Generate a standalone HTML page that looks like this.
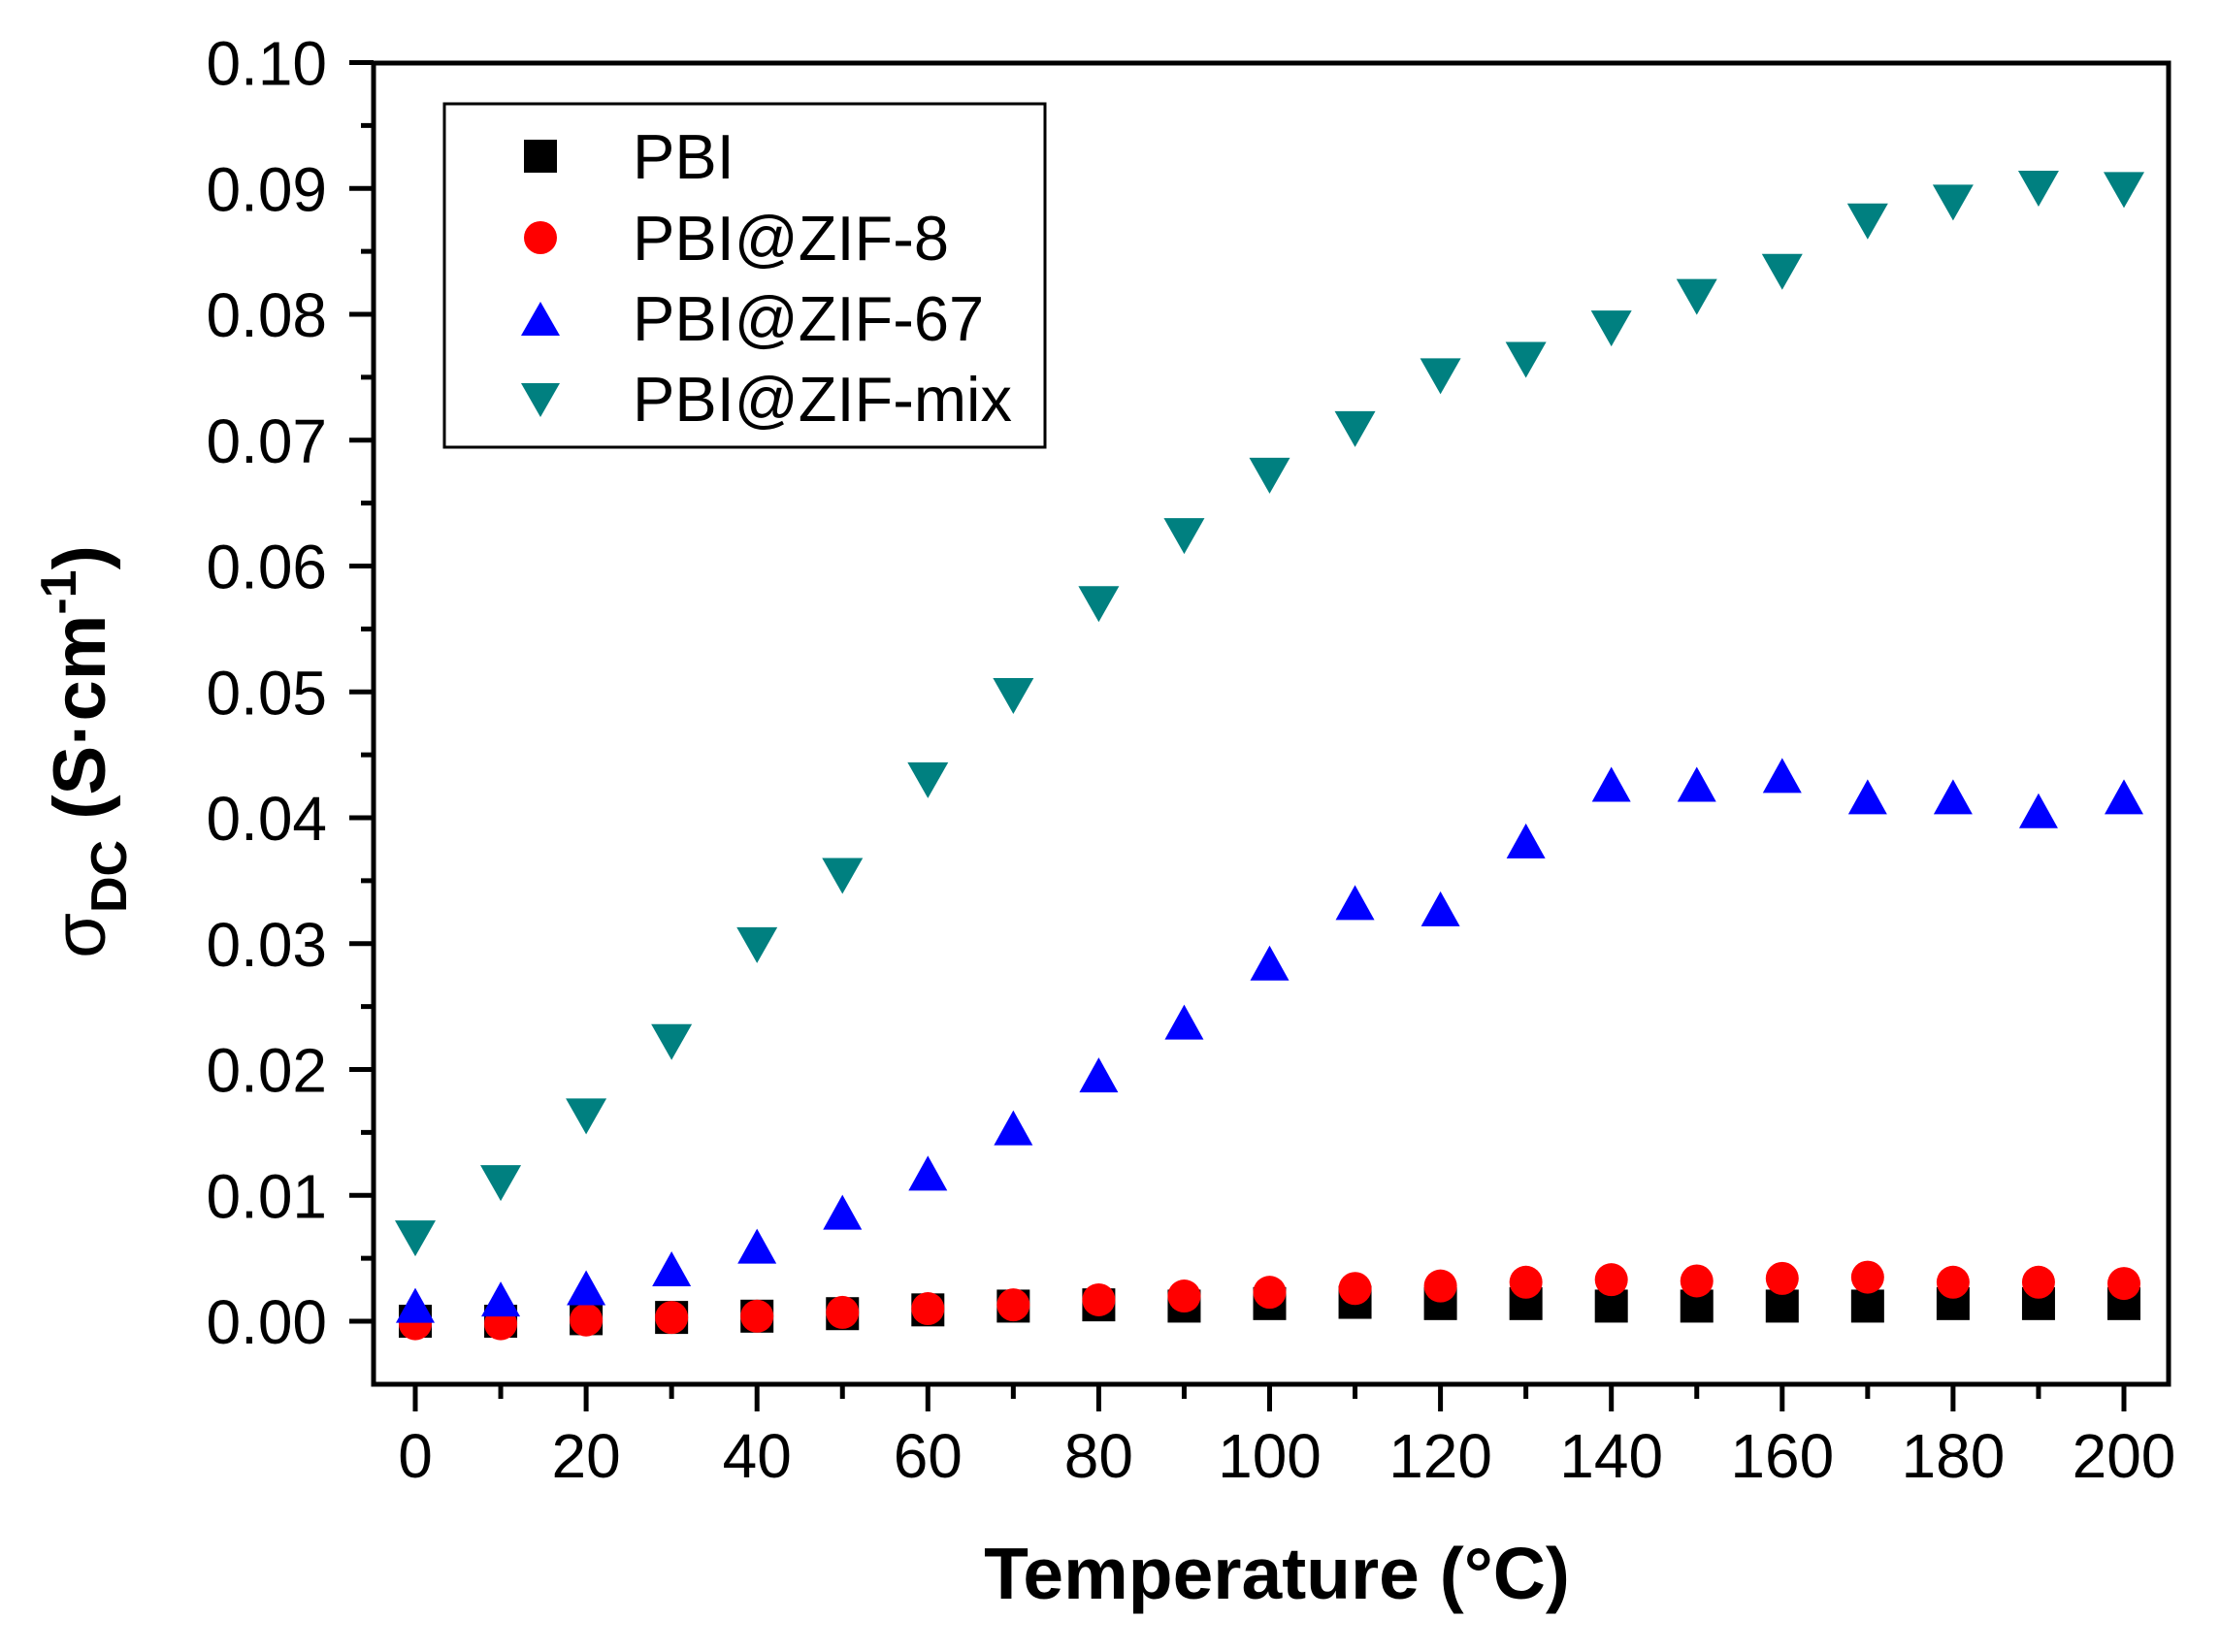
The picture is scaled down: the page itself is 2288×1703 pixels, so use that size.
<!DOCTYPE html>
<html><head><meta charset="utf-8"><style>
html,body{margin:0;padding:0;background:#fff;}
svg{display:block;}
text{font-family:"Liberation Sans",Arial,sans-serif;}
</style></head><body>
<svg id="s" width="2288" height="1703" viewBox="0 0 2288 1703" xmlns="http://www.w3.org/2000/svg">
<rect width="2288" height="1703" fill="#fff"/>
<g id="g"></g>
<rect x="385" y="65" width="1850" height="1362" fill="none" stroke="#000" stroke-width="5"/>
<rect x="458" y="107" width="619" height="354" fill="none" stroke="#000" stroke-width="3"/>
<rect x="540" y="144" width="34" height="34" fill="#000"/>
<circle cx="557" cy="245" r="17" fill="#f00"/>
<polygon points="537,346 577,346 557,311" fill="#00f"/>
<polygon points="537,395 577,395 557,430" fill="#008080"/>
<g font-size="65" fill="#000">
<text x="652" y="184">PBI</text>
<text x="652" y="268">PBI@ZIF-8</text>
<text x="652" y="351">PBI@ZIF-67</text>
<text x="652" y="434">PBI@ZIF-mix</text>
</g>
<text x="1316" y="1648" font-size="75" font-weight="bold" text-anchor="middle">Temperature (°C)</text>
<g transform="translate(108,775) rotate(-90)">
<text text-anchor="middle" font-size="76" font-weight="bold"><tspan font-weight="normal">σ</tspan><tspan font-size="52" dy="22">DC</tspan><tspan dy="-22"> (S·cm</tspan><tspan font-size="52" dy="-30">-1</tspan><tspan dy="30">)</tspan></text>
</g>
</svg>
<script>
var g=document.getElementById('g'),h='';
function X(t){return 428+t*8.805;}
function Y(v){return 1362-v*12975;}
for(var i=0;i<=20;i++){var v=i*0.005,y=Y(v),maj=i%2==0;
h+='<line x1="'+(maj?360:372)+'" x2="385" y1="'+y+'" y2="'+y+'" stroke="#000" stroke-width="5"/>';
if(maj)h+='<text x="337" y="'+(y+23)+'" font-size="64" text-anchor="end">'+v.toFixed(2)+'</text>';}
for(var t=0;t<=200;t+=10){var x=X(t),maj=t%20==0;
h+='<line x1="'+x+'" x2="'+x+'" y1="1427" y2="'+(maj?1455:1442)+'" stroke="#000" stroke-width="5"/>';
if(maj)h+='<text x="'+x+'" y="1523" font-size="64" text-anchor="middle">'+t+'</text>';}
var pbi=[0,0,0.0002,0.0003,0.0004,0.0006,0.0009,0.0012,0.0013,0.0012,0.0014,0.0015,0.0014,0.0014,0.0012,0.0012,0.0012,0.0012,0.0014,0.0014,0.0014];
var z8=[-0.0002,-0.0002,0.0001,0.0003,0.0004,0.0007,0.001,0.0013,0.0017,0.002,0.0023,0.0026,0.0028,0.0031,0.0033,0.0032,0.0034,0.0035,0.0031,0.0031,0.003];
var z67=[0.0008,0.0013,0.0022,0.0037,0.0055,0.0082,0.0113,0.0149,0.0191,0.0233,0.028,0.0328,0.0323,0.0377,0.0422,0.0422,0.0429,0.0412,0.0412,0.0401,0.0412];
var zm=[0.007,0.0114,0.0167,0.0226,0.0303,0.0358,0.0434,0.0501,0.0574,0.0628,0.0676,0.0713,0.0755,0.0768,0.0793,0.0818,0.0838,0.0878,0.0893,0.0904,0.0903];
for(var k=0;k<21;k++){var x=X(k*10);
h+='<rect x="'+(x-17)+'" y="'+(Y(pbi[k])-17)+'" width="34" height="34" fill="#000"/>';}
for(var k=0;k<21;k++){var x=X(k*10);
h+='<circle cx="'+x+'" cy="'+Y(z8[k])+'" r="17" fill="#f00"/>';}
for(var k=0;k<21;k++){var x=X(k*10),y=Y(z67[k]);
h+='<polygon points="'+(x-20)+','+(y+12)+' '+(x+20)+','+(y+12)+' '+x+','+(y-24)+'" fill="#00f"/>';}
for(var k=0;k<21;k++){var x=X(k*10),y=Y(zm[k]);
h+='<polygon points="'+(x-21)+','+(y-13)+' '+(x+21)+','+(y-13)+' '+x+','+(y+24)+'" fill="#008080"/>';}
g.innerHTML=h;
</script>
</body></html>
